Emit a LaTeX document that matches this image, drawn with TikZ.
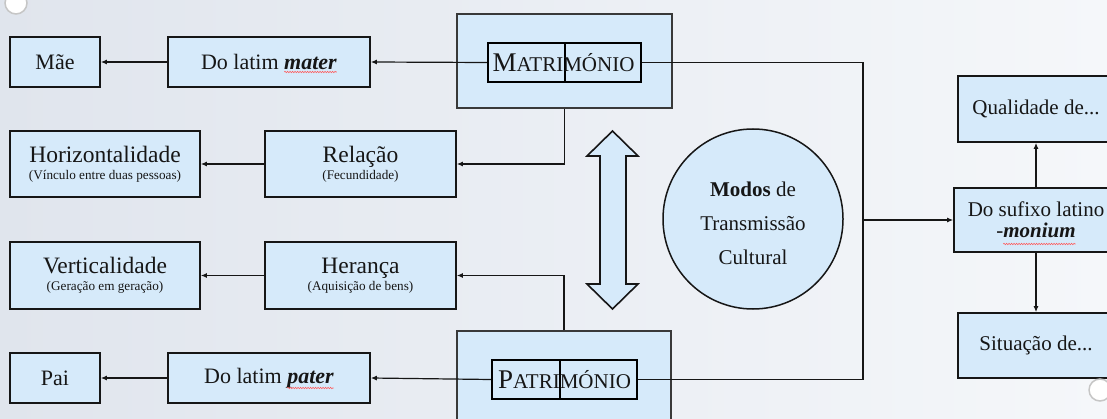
\documentclass[tikz,border=0pt]{standalone}
\usepackage{fontspec}
\setmainfont{Liberation Serif}
\usetikzlibrary{arrows.meta, positioning, calc, decorations.pathmorphing}
\definecolor{boxblue}{RGB}{214,234,250}
\definecolor{bgleft}{RGB}{224,229,237}
\definecolor{bgright}{RGB}{245,247,250}
\definecolor{ink}{RGB}{22,22,22}
\newcommand\capword[2]{{\fontsize{27}{27}\selectfont #1}{\fontsize{21}{21}\selectfont #2}}
\newcommand\bigline[1]{{\fontsize{23.5}{23.5}\selectfont #1}}
\newcommand\subline[1]{{\fontsize{13.2}{13.2}\selectfont #1}}

\begin{document}
\begin{tikzpicture}[x=1pt, y=-1pt,
    box/.style={draw=ink, line width=1.6pt, fill=boxblue, inner sep=0pt, align=center,
        text=ink, font=\fontsize{21}{21}\selectfont},
    wide/.style={font=\fontsize{22}{22}\selectfont},
    outer/.style={draw=ink!85, line width=1.3pt, fill=boxblue, inner sep=0pt},
    inbox/.style={draw=black, line width=2.4pt, inner sep=0pt},
    link/.style={draw=ink, line width=1.2pt},
    arr/.style={link, -{Latex[length=6pt, width=5pt]}},
    spell/.style={draw=red!65, line width=0.6pt, decorate,
        decoration={snake, segment length=2.5pt, amplitude=0.7pt}}]
        \useasboundingbox (0,0) rectangle (1107,419);
        \clip (0,0) rectangle (1107,419);
        \shade[left color=bgleft, right color=bgright] (0,0) rectangle (1107,419);

        \node[box, wide, minimum width=90, minimum height=50] (mae) at (55,62) {Mãe};
        \node[box, wide, minimum width=202, minimum height=50] (mater) at (269,62) {Do latim \textbf{\textit{mater}}};

        \node[box, minimum width=190, minimum height=66] (horiz) at (105,164)
            {\bigline{Horizontalidade}\\[-4pt]\subline{(Vínculo entre duas pessoas)}};
        \node[box, minimum width=191, minimum height=66] (relacao) at (360.5,164)
            {\bigline{Relação}\\[-4pt]\subline{(Fecundidade)}};

        \node[box, minimum width=190, minimum height=67] (vert) at (105,275.5)
            {\bigline{Verticalidade}\\[-4pt]\subline{(Geração em geração)}};
        \node[box, minimum width=191, minimum height=67] (heranca) at (360.5,275.5)
            {\bigline{Herança}\\[-4pt]\subline{(Aquisição de bens)}};

        \node[box, wide, minimum width=90, minimum height=50] (pai) at (55,378) {Pai};
        \node[box, wide, minimum width=202, minimum height=50] (pater) at (269,378) {Do latim \textbf{\textit{pater}}};

        \node[outer, minimum width=215, minimum height=94] (matbox) at (564.5,61) {};
        \node[outer, minimum width=214, minimum height=94] (patbox) at (564,378) {};

        \node[inbox, minimum width=77, minimum height=39] (matl) at (526.5,62.5) {};
        \node[inbox, minimum width=76, minimum height=39] (matr) at (603,62.5) {};
        \node[inbox, minimum width=68, minimum height=39] (patl) at (526,379.5) {};
        \node[inbox, minimum width=77, minimum height=39] (patr) at (598.5,379.5) {};

        \draw[link, fill=boxblue, line width=1.6pt, line join=miter] (612.5,131) -- (638,156) -- (626,156)
            -- (626,284) -- (638,284) -- (612.5,309) -- (587,284) -- (600,284) -- (600,156) -- (587,156) -- cycle;

        \node[circle, draw=ink, line width=1.5pt, fill=boxblue, minimum size=180, inner sep=0pt,
            align=center, text=ink, font=\fontsize{21}{34}\selectfont] (modos) at (753,219)
            {\rule{0pt}{24pt}\textbf{Modos} de\\Transmissão\\Cultural};

        \node[box, minimum width=156, minimum height=66] (qual) at (1036,109) {Qualidade de...};
        \node[box, minimum width=164, minimum height=64] (sufixo) at (1036,220)
            {Do sufixo latino\\-\textbf{\textit{monium}}};
        \node[box, minimum width=156, minimum height=65] (situ) at (1036,345.5) {Situação de...};

        \coordinate (bus) at (863,220);

        \draw[arr] (matl.west) -- (mater.east);
        \draw[arr] (mater.west) -- (mae.east);
        \draw[arr] (matbox.south) |- (relacao.east);
        \draw[arr] (relacao.west) -- (horiz.east);
        \draw[arr] (patbox.north) |- (heranca.east);
        \draw[arr] (heranca.west) -- (vert.east);
        \draw[arr] (patl.west) -- (pater.east);
        \draw[arr] (pater.west) -- (pai.east);
        \draw[link] (matr.east) -| (bus) |- (patr.east);
        \draw[arr] (bus) -- (sufixo.west);
        \draw[arr] (sufixo.north) -- (qual.south);
        \draw[arr] (sufixo.south) -- (situ.north);

        \draw[spell] ($(mater.center)+(15.3,10)$) -- ($(mater.center)+(67.9,10)$);
        \draw[spell] ($(pater.center)+(18.3,10)$) -- ($(pater.center)+(64.7,10)$);
        \draw[spell] ($(sufixo.center)+(-32.7,24)$) -- ($(sufixo.center)+(39.7,24)$);

        \node[anchor=base, inner sep=0pt, text=ink] (mattext) at (563.5,72) {\capword{M}{ATRIMÓNIO}};
        \node[anchor=base, inner sep=0pt, text=ink] (pattext) at (564.5,388) {\capword{P}{ATRIMÓNIO}};

        \draw[gray!45, line width=1.5pt, fill=white] (16,3) circle (11);
        \draw[gray!45, line width=1.5pt, fill=white] (1100,390) circle (11);
    \end{tikzpicture}
\end{document}
